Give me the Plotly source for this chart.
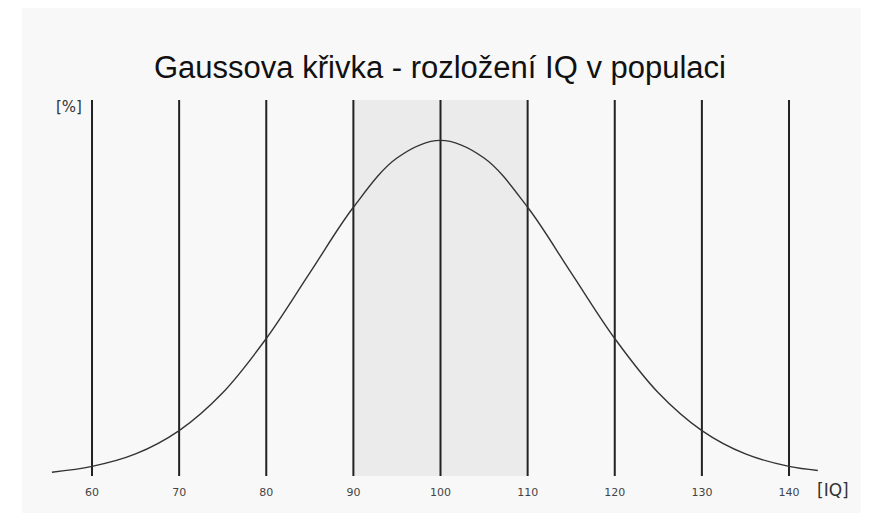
import plotly.graph_objects as go

# Data
iq = [55.4, 60, 65, 70, 75, 80, 85, 90, 95, 100, 105, 110, 115, 120, 125, 130, 135, 140, 143.3]
pct = [0.03, 0.076, 0.175, 0.36, 0.66, 1.09, 1.61, 2.13, 2.52, 2.66, 2.52, 2.13, 1.61, 1.09, 0.66, 0.36, 0.175, 0.076, 0.044]
tick_vals = [60, 70, 80, 90, 100, 110, 120, 130, 140]
tick_text = [str(v) for v in tick_vals]
band = [90, 110]
y_top = 2.98

lx, ly = [], []
for v in tick_vals:
    lx += [v, v, None]
    ly += [0, y_top, None]

fig = go.Figure()
fig.add_trace(go.Scatter(x=lx, y=ly, mode="lines", line=dict(color="#222222", width=2),
                         hoverinfo="skip", showlegend=False))
fig.add_trace(go.Scatter(x=iq, y=pct, mode="lines", line=dict(color="#333333", width=1.4, shape="spline"),
                         showlegend=False))

fig.add_shape(type="rect", xref="paper", yref="paper", x0=-0.0228, x1=1.0431, y0=-0.0984, y1=1.25,
              fillcolor="#f8f8f8", line_width=0, layer="below")
fig.add_shape(type="rect", xref="x", yref="y", x0=band[0], x1=band[1], y0=0, y1=y_top,
              fillcolor="#ebebeb", line_width=0, layer="below")

fig.add_annotation(text="[%]", xref="paper", yref="paper", x=(84-40)/789, y=(476-107)/376,
                   xanchor="right", yanchor="middle", showarrow=False,
                   font=dict(family="DejaVu Sans", size=15, color="#333333"))
fig.add_annotation(text="[IQ]", xref="paper", yref="paper", x=(815-40)/789, y=(476-490)/376,
                   xanchor="left", yanchor="middle", showarrow=False,
                   font=dict(family="DejaVu Sans", size=17, color="#333333"))

fig.update_layout(
    width=861, height=505,
    margin=dict(l=32, r=40, t=92, b=37),
    paper_bgcolor="white", plot_bgcolor="rgba(0,0,0,0)",
    title=dict(text="Gaussova křivka - rozložení IQ v populaci", x=(440-8)/861, xanchor="center",
               y=1-(67-8)/505, yanchor="middle",
               font=dict(family="Liberation Sans, Arial", size=31, color="#111111")),
    xaxis=dict(range=[54.03, 144.59], tickvals=tick_vals, ticktext=tick_text, showgrid=False,
               zeroline=False, showline=False, ticks="outside", ticklen=6, tickcolor="rgba(0,0,0,0)",
               tickfont=dict(family="DejaVu Sans", size=11, color="#444444")),
    yaxis=dict(range=[0, y_top], showgrid=False, zeroline=False, showline=False, showticklabels=False),
)
fig.write_html("out.html")
